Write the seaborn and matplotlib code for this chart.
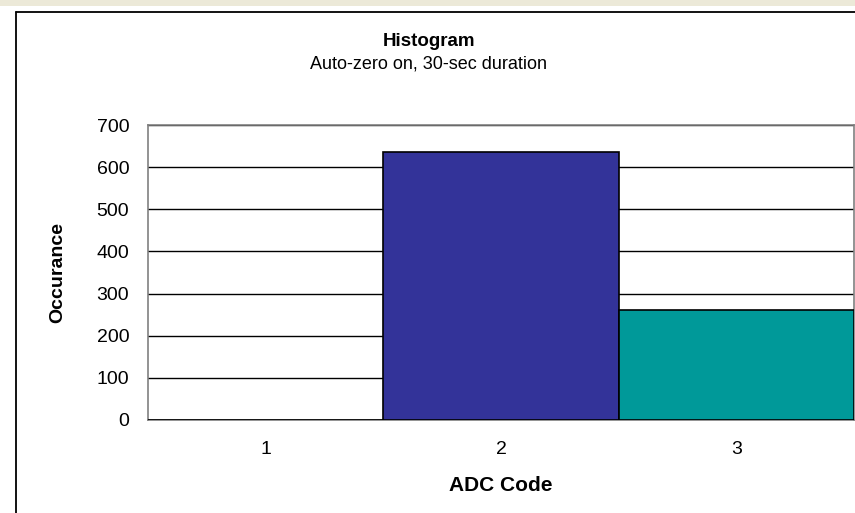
import matplotlib
matplotlib.use("Agg")
import matplotlib.pyplot as plt
import matplotlib.patches as mpatches
import seaborn as sns
import pandas as pd

codes = ["1", "2", "3"]
counts = [0, 636, 261]
bar_colors = ["#333399", "#333399", "#009999"]

df = pd.DataFrame({"code": codes, "count": counts})

sns.set_style("white")
plt.rcParams['font.family'] = ['Liberation Sans', 'DejaVu Sans']
plt.rcParams['text.color'] = 'black'
plt.rcParams['axes.labelcolor'] = 'black'
plt.rcParams['xtick.color'] = 'black'
plt.rcParams['ytick.color'] = 'black'

fig = plt.figure(figsize=(8.55, 5.13), dpi=100)
ax = fig.add_axes([148/855, 1 - 420/513, 706/855, 295/513])

# beige strip on top and the outer chart frame
fig.patches.append(mpatches.Rectangle((0, 1 - 6/513), 1, 6/513, transform=fig.transFigure,
                                      facecolor="#ECE9D8", edgecolor="none"))
fig.lines.append(plt.Line2D([15.5/855, 15.5/855], [0, 1 - 12/513], transform=fig.transFigure,
                            color="black", lw=1.3))
fig.lines.append(plt.Line2D([15.5/855, 1], [1 - 12/513, 1 - 12/513], transform=fig.transFigure,
                            color="black", lw=1.3))

sns.barplot(data=df, x="code", y="count", hue="code", palette=bar_colors, legend=False,
            width=1.0, saturation=1, edgecolor="black", linewidth=1.2, ax=ax, zorder=3)

ax.set_ylim(0, 700)
ax.set_yticks(range(0, 701, 100))
ax.yaxis.grid(True, color="black", lw=1.0, zorder=0)
ax.set_axisbelow(True)
for s in ax.spines.values():
    s.set_color("#808080")
    s.set_linewidth(1.2)
ax.tick_params(axis="both", labelsize=14, length=0)
ax.tick_params(axis="y", pad=13.5)
ax.tick_params(axis="x", pad=15)

ax.set_xlabel("ADC Code", fontsize=15, fontweight="bold", labelpad=13)
ax.set_ylabel("Occurance", fontsize=14, fontweight="bold", labelpad=22)

fig.text(0.5015, 1 - 41/513, "Histogram", ha="center", va="center", fontsize=13.5, fontweight="bold")
fig.text(0.5015, 1 - 64/513, "Auto-zero on, 30-sec duration", ha="center", va="center", fontsize=13)

fig.savefig("out.png", dpi=100, facecolor="white")
